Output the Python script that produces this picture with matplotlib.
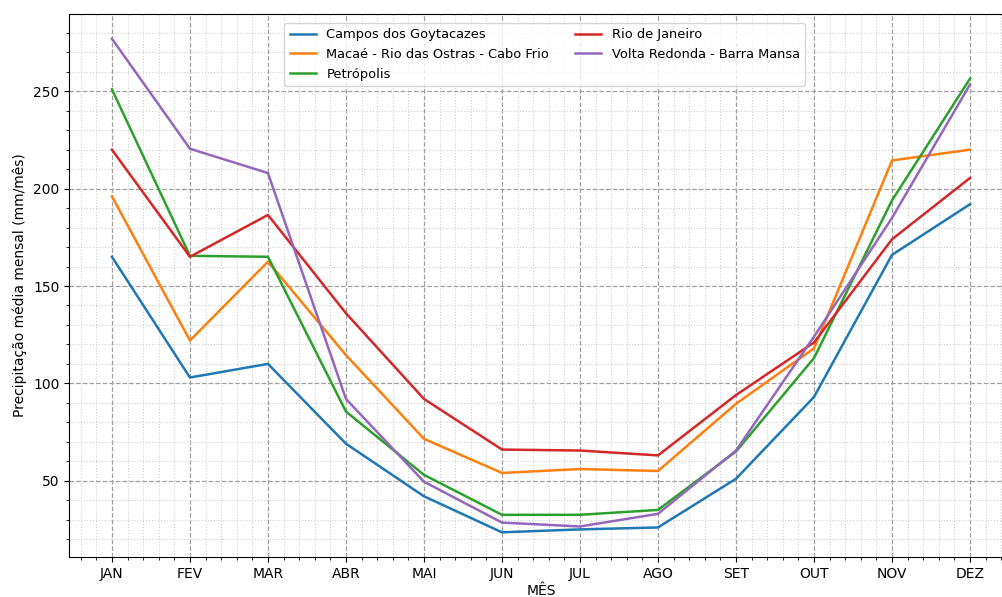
import matplotlib
matplotlib.use("Agg")
import matplotlib.pyplot as plt

meses = ["JAN", "FEV", "MAR", "ABR", "MAI", "JUN", "JUL", "AGO", "SET", "OUT", "NOV", "DEZ"]

# precipitacao media mensal (mm/mes) por regiao
campos = [165, 103, 110, 69, 42, 23.5, 25, 26, 51, 93, 166, 192]
macae = [196, 122, 162.5, 114.5, 71.5, 54, 56, 55, 89.5, 118, 214.5, 220]
petropolis = [251, 165.5, 165, 85.5, 53, 32.5, 32.5, 35, 65, 113, 194, 256.5]
rio = [220, 165, 186.5, 136, 92, 66, 65.5, 63, 94, 121, 174, 205.5]
volta_redonda = [277, 220.5, 208, 92, 49.5, 28.5, 26.5, 33, 65.5, 124, 185, 253.5]

nomes = ["Campos dos Goytacazes", "Macaé - Rio das Ostras - Cabo Frio", "Petrópolis",
         "Rio de Janeiro", "Volta Redonda - Barra Mansa"]

fig = plt.figure(figsize=(10.02, 5.97), dpi=100)
ax = fig.add_axes([0.0689, 0.067, 0.942, 0.9095])

x = list(range(len(meses)))
for serie, nome in zip([campos, macae, petropolis, rio, volta_redonda], nomes):
    ax.plot(x, serie, linewidth=1.8, label=nome)

ax.set_xticks(x)
ax.set_xticklabels(meses)
ax.minorticks_on()
ax.grid(which="major", linestyle="--", color="#a0a0a0", linewidth=0.9)
ax.grid(which="minor", linestyle=":", color="#d0d0d0", linewidth=0.8)
ax.tick_params(labelsize=10)

ax.set_xlabel("MÊS", fontsize=10, labelpad=2)
ax.set_ylabel("Precipitação média mensal (mm/mês)", fontsize=10)
ax.legend(loc="upper center", ncol=2, fontsize=9.4, bbox_to_anchor=(0.504, 0.995))

fig.savefig("out.png", dpi=100)
